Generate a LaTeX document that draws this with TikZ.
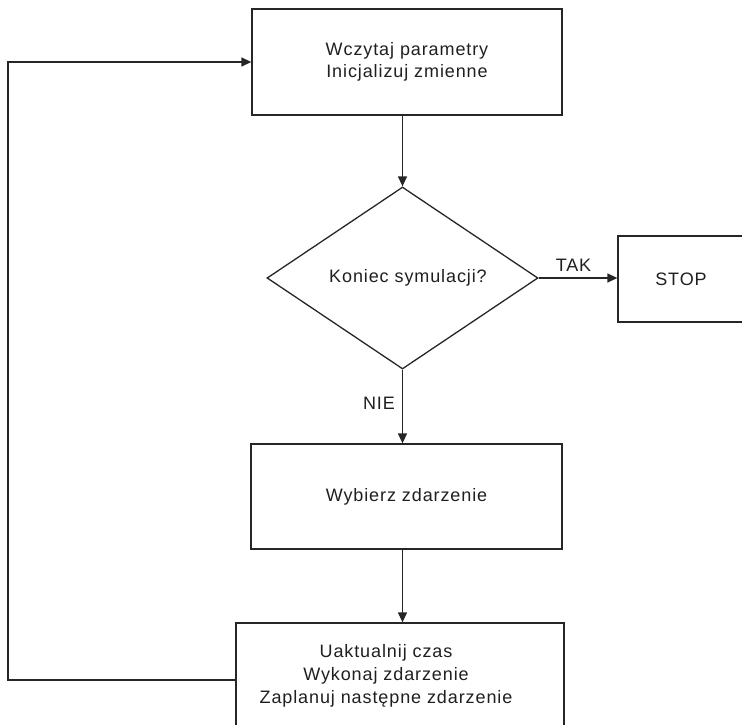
\documentclass[tikz,border=0pt]{standalone}
\usepackage{fontspec}
\setmainfont[LetterSpace=5]{Liberation Sans}
\usetikzlibrary{arrows.meta,shapes.geometric}

\tikzset{
  every node/.style={text=black!88, font=\fontsize{18}{21.5}\selectfont},
  procbox/.style={draw=black!85, line width=1.3pt, rectangle, inner sep=0pt},
  decision/.style={draw=black!85, line width=1.3pt, diamond, inner sep=0pt},
  plain/.style={inner sep=0pt, align=center},
  flow/.style={draw=black!85, line width=1.3pt, -{Triangle[length=10pt,width=9pt]}},
}

\begin{document}
\begin{tikzpicture}[x=1pt, y=-1pt]
  \useasboundingbox (0,0) rectangle (742,725);
  \clip (0,0) rectangle (742,725);

  % process steps
  \node[procbox, minimum width=310pt, minimum height=106pt, align=center]
    (init) at (407,62) {Wczytaj parametry\\Inicjalizuj zmienne};
  \node[decision, minimum width=271pt, minimum height=182pt]
    (test) at (402.5,278) {};
  \node[plain] (testtext) at (408,278) {Koniec symulacji?};
  \node[procbox, minimum width=126pt, minimum height=86pt]
    (stop) at (681,279) {STOP};
  \node[procbox, minimum width=311pt, minimum height=105pt]
    (pick) at (406.5,496.5) {Wybierz zdarzenie};
  \node[procbox, minimum width=328pt, minimum height=106pt]
    (exec) at (400,676) {};
  \node[plain, font=\fontsize{18}{23.3}\selectfont]
    (exectext) at (386,676) {Uaktualnij czas\\Wykonaj zdarzenie\\Zaplanuj następne zdarzenie};

  % connectors
  \draw[flow] (test.north |- init.south) -- (test.north);
  \draw[flow] (test.east) -- (test.east -| stop.west);
  \draw[flow] (test.south) -- (test.south |- pick.north);
  \draw[flow] (test.south |- pick.south) -- (test.south |- exec.north);
  \coordinate (loop) at (8,680);
  \draw[flow] (exec.west |- loop) -- (loop) |- (init.west);

  % branch labels
  \node[plain] (yes) at (573.5,265) {TAK};
  \node[plain] (no) at (379,403) {NIE};
\end{tikzpicture}
\end{document}
